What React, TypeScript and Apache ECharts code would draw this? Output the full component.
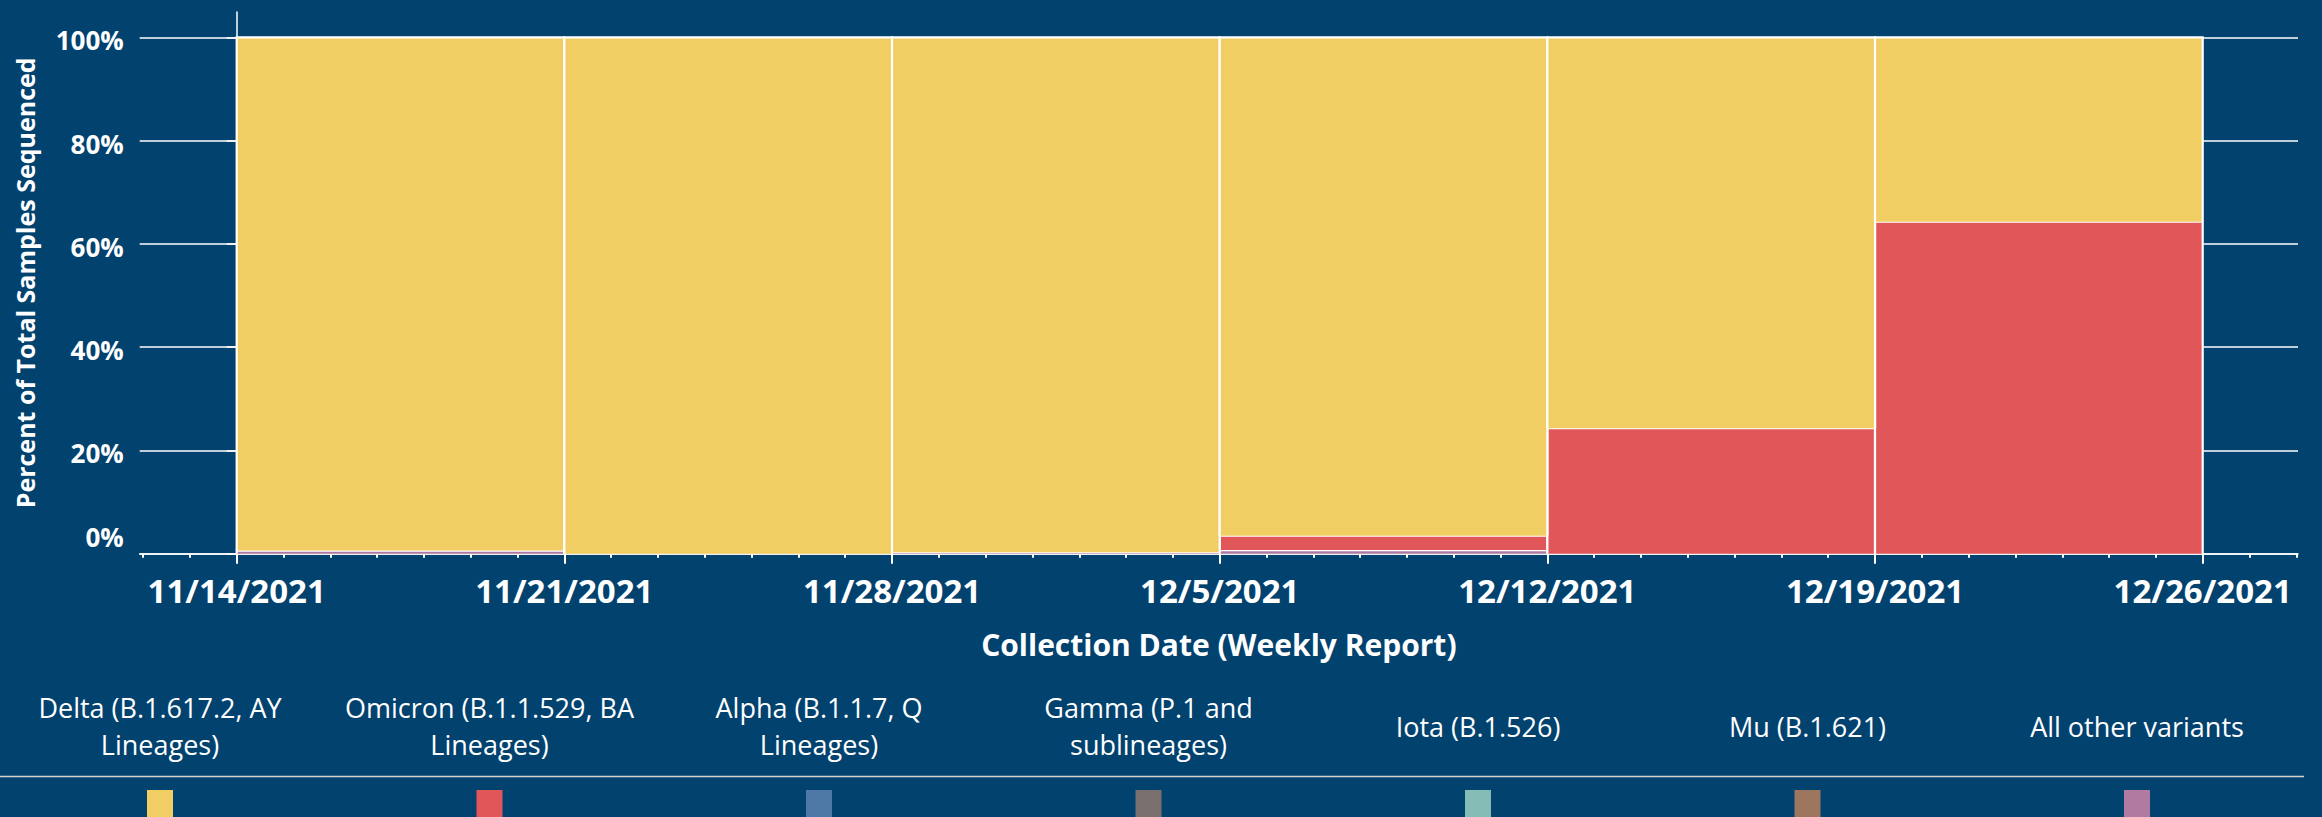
import React, { useEffect, useRef } from 'react';
import * as echarts from 'echarts';

// ---------- data ----------
const weekStarts = ['2021-11-14', '2021-11-21', '2021-11-28', '2021-12-05', '2021-12-12', '2021-12-19'];
const majorTickDates = ['2021-11-14', '2021-11-21', '2021-11-28', '2021-12-05', '2021-12-12', '2021-12-19', '2021-12-26'];
const majorTickLabels = ['11/14/2021', '11/21/2021', '11/28/2021', '12/5/2021', '12/12/2021', '12/19/2021', '12/26/2021'];
const yTickValues = [0, 20, 40, 60, 80, 100];

const variantNames = [
  'Delta (B.1.617.2, AY Lineages)',
  'Omicron (B.1.1.529, BA Lineages)',
  'Alpha (B.1.1.7, Q Lineages)',
  'Gamma (P.1 and sublineages)',
  'Iota (B.1.526)',
  'Mu (B.1.621)',
  'All other variants',
];
const legendLabels = [
  'Delta (B.1.617.2, AY\nLineages)',
  'Omicron (B.1.1.529, BA\nLineages)',
  'Alpha (B.1.1.7, Q\nLineages)',
  'Gamma (P.1 and\nsublineages)',
  'Iota (B.1.526)',
  'Mu (B.1.621)',
  'All other variants',
];
const variantColors = ['#F1CE63', '#E15759', '#4E79A7', '#79706E', '#86BCB6', '#9D7660', '#B07AA1'];

const delta = [99.4, 100, 99.7, 96.5, 75.7, 35.7];
const omicron = [0, 0, 0, 2.8, 24.3, 64.3];
const alpha = [0, 0, 0, 0, 0, 0];
const gamma = [0, 0, 0, 0, 0, 0];
const iota = [0, 0, 0, 0, 0, 0];
const mu = [0, 0, 0, 0, 0, 0];
const other = [0.6, 0, 0.3, 0.7, 0, 0];

const variantValues = [delta, omicron, alpha, gamma, iota, mu, other];

// ---------- helpers ----------
const DAY = 86400000;
const dayOf = (d: string) => (Date.parse(d) - Date.parse(weekStarts[0])) / DAY;
const weekDays = weekStarts.map(dayOf);
const majorDays = majorTickDates.map(dayOf);
const X_MIN = -2.072;
const X_MAX = 44.036;
const minorDays: number[] = [];
for (let d = Math.ceil(X_MIN); d <= Math.floor(X_MAX); d++) minorDays.push(d);

const BG = '#02426F';
const FONT = '"Open Sans", "Noto Sans", sans-serif';

export default function App() {
  const ref = useRef<HTMLDivElement>(null);

  useEffect(() => {
    if (!ref.current) return;
    const chart = echarts.init(ref.current, undefined, { renderer: 'svg' });

    // stacking order bottom -> top : reverse of legend order
    const order = variantNames.map((_, i) => i).reverse();
    const cum = weekStarts.map(() => 0);
    const series: any[] = [];
    order.forEach((vi) => {
      const vals = variantValues[vi];
      const data = weekStarts.map((_, wi) => {
        const lo = cum[wi];
        const hi = lo + vals[wi];
        cum[wi] = hi;
        return [weekDays[wi], weekDays[wi] + 7, lo, hi];
      });
      const color = variantColors[vi];
      series.push({
        type: 'custom',
        name: variantNames[vi],
        xAxisIndex: 0,
        yAxisIndex: 0,
        encode: { x: [0, 1], y: [2, 3] },
        data,
        renderItem: (params: any, api: any) => {
          const x0 = api.value(0);
          const x1 = api.value(1);
          const lo = api.value(2);
          const hi = api.value(3);
          if (hi - lo <= 0) return { type: 'group', children: [] };
          const p0 = api.coord([x0, hi]);
          const p1 = api.coord([x1, lo]);
          return {
            type: 'group',
            children: [
              {
                type: 'rect',
                shape: { x: p0[0], y: p0[1], width: p1[0] - p0[0], height: p1[1] - p0[1] },
                style: { fill: color },
              },
              {
                type: 'polyline',
                shape: {
                  points: [
                    [p0[0], p1[1]],
                    [p0[0], p0[1]],
                    [p1[0], p0[1]],
                    [p1[0], p1[1]],
                  ],
                },
                style: { fill: null, stroke: '#ffffff', lineWidth: 2.2 },
              },
            ],
          };
        },
      });
    });

    const legendX0 = 160;
    const legendStep = 329.5;
    const graphics: any[] = [
      {
        type: 'line',
        shape: { x1: 0, y1: 776.5, x2: 2304, y2: 776.5 },
        style: { stroke: '#d6d2cc', lineWidth: 1.5 },
      },
    ];
    legendLabels.forEach((lab, i) => {
      const cx = legendX0 + i * legendStep;
      graphics.push({
        type: 'text',
        x: cx,
        y: 726,
        style: {
          text: lab,
          fill: '#ffffff',
          font: `27px ${FONT}`,
          align: 'center',
          verticalAlign: 'middle',
          lineHeight: 37,
        },
      });
      graphics.push({
        type: 'rect',
        shape: { x: cx - 13, y: 790, width: 26, height: 30 },
        style: { fill: variantColors[i] },
      });
    });

    const option: any = {
      animation: false,
      backgroundColor: BG,
      grid: { left: 139.7, right: 24, top: 12, bottom: 263.3, containLabel: false },
      xAxis: [
        {
          type: 'value',
          min: X_MIN,
          max: X_MAX,
          position: 'bottom',
          axisLine: { show: true, lineStyle: { color: '#ffffff', width: 1.5 } },
          axisTick: { show: true, customValues: minorDays, length: 4, lineStyle: { color: '#ffffff', width: 2 } },
          axisLabel: { show: false },
          splitLine: { show: false },
        },
        {
          type: 'value',
          min: X_MIN,
          max: X_MAX,
          position: 'bottom',
          axisLine: { show: false },
          axisTick: { show: true, customValues: majorDays, length: 10, lineStyle: { color: '#ffffff', width: 2 } },
          axisLabel: {
            show: true,
            customValues: majorDays,
            formatter: (v: number) => {
              const idx = majorDays.findIndex((d) => Math.abs(d - v) < 1e-6);
              return idx >= 0 ? majorTickLabels[idx] : '';
            },
            color: '#ffffff',
            fontFamily: FONT,
            fontWeight: 'bold',
            fontSize: 33,
            margin: 20,
          },
          splitLine: { show: false },
          name: 'Collection Date (Weekly Report)',
          nameLocation: 'middle',
          nameGap: 76,
          nameTextStyle: { color: '#ffffff', fontFamily: FONT, fontWeight: 'bold', fontSize: 30 },
        },
      ],
      yAxis: {
        type: 'value',
        min: 0,
        max: 104.9,
        axisLine: { show: true, lineStyle: { color: '#ffffff', width: 1.5 } },
        axisTick: { show: true, customValues: yTickValues, length: 10, lineStyle: { color: '#ffffff', width: 1.5 } },
        axisLabel: {
          show: true,
          customValues: yTickValues,
          margin: 16,
          formatter: (v: number) => (v === 0 ? `{z|${v}%}` : `{n|${v}%}`),
          rich: {
            z: { color: '#ffffff', fontFamily: FONT, fontWeight: 'bold', fontSize: 26, padding: [0, 0, 34, 0] },
            n: { color: '#ffffff', fontFamily: FONT, fontWeight: 'bold', fontSize: 26, padding: [6, 0, 0, 0] },
          },
        },
        splitLine: { show: true, lineStyle: { color: '#ffffff', width: 1.5 } },
        name: 'Percent of Total Samples Sequenced',
        nameLocation: 'middle',
        nameGap: 102,
        nameTextStyle: { color: '#ffffff', fontFamily: FONT, fontWeight: 'bold', fontSize: 25 },
      },
      series,
      graphic: graphics,
    };

    chart.setOption(option);
    return () => chart.dispose();
  }, []);

  return (
    <div
      ref={ref}
      style={{ position: 'fixed', left: 0, top: 0, width: 2322, height: 817, background: BG }}
    />
  );
}
